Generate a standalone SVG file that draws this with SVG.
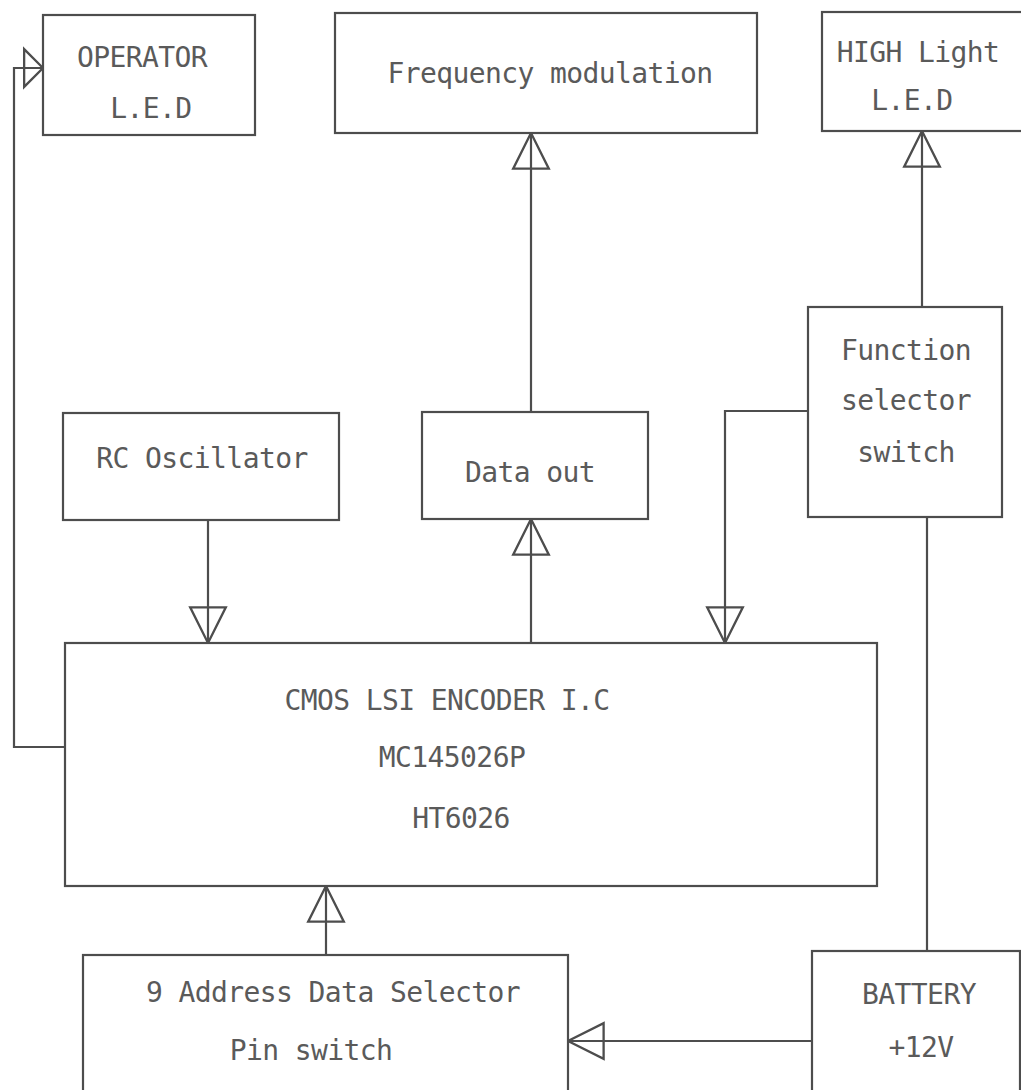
<svg xmlns="http://www.w3.org/2000/svg" width="1021" height="1090" viewBox="0 0 1021 1090">
<style>
.box{fill:#fff;stroke:#4d4d4d;stroke-width:2.2}
.ln{fill:none;stroke:#4d4d4d;stroke-width:2.2}
.t{font-family:"DejaVu Sans Mono","Liberation Mono",monospace;font-size:28px;letter-spacing:-0.6px;fill:#5a5a5a;text-anchor:middle}
</style>
<defs>
<marker id="tri" markerUnits="userSpaceOnUse" markerWidth="44" markerHeight="44" viewBox="-38 -21 42 42" refX="0" refY="0" orient="auto">
<path d="M0,0 L-34,-17 L-34,17 Z" fill="none" stroke="#4d4d4d" stroke-width="2.2"/>
</marker>
<marker id="triShort" markerUnits="userSpaceOnUse" markerWidth="44" markerHeight="44" viewBox="-38 -21 42 42" refX="0" refY="0" orient="auto">
<path d="M0,0 L-18,-18 L-18,18 Z" fill="none" stroke="#4d4d4d" stroke-width="2.2"/>
</marker>
</defs>
<rect width="1021" height="1090" fill="#fff"/>
<g id="connectors">
<polyline class="ln" points="65,747 14,747 14,68 43,68" marker-end="url(#triShort)"/>
<line class="ln" x1="531" y1="412" x2="531" y2="133" marker-end="url(#tri)"/>
<line class="ln" x1="922" y1="307" x2="922" y2="131" marker-end="url(#tri)"/>
<line class="ln" x1="208" y1="520" x2="208" y2="643" marker-end="url(#tri)"/>
<line class="ln" x1="531" y1="643" x2="531" y2="519" marker-end="url(#tri)"/>
<polyline class="ln" points="808,411 725,411 725,643" marker-end="url(#tri)"/>
<line class="ln" x1="326" y1="955" x2="326" y2="886" marker-end="url(#tri)"/>
<line class="ln" x1="927" y1="517" x2="927" y2="951"/>
<line class="ln" x1="812" y1="1041" x2="568" y2="1041" marker-end="url(#tri)"/>
</g>
<g id="operator-led">
<rect class="box" x="43" y="15" width="212" height="120"/>
<text class="t" x="142" y="67">OPERATOR</text>
<text class="t" x="151" y="118">L.E.D</text>
</g>
<g id="frequency-modulation">
<rect class="box" x="335" y="13" width="422" height="120"/>
<text class="t" x="550" y="83">Frequency modulation</text>
</g>
<g id="high-light-led">
<rect class="box" x="822" y="12" width="220" height="119"/>
<text class="t" x="918" y="62">HIGH Light</text>
<text class="t" x="912" y="110">L.E.D</text>
</g>
<g id="rc-oscillator">
<rect class="box" x="63" y="413" width="276" height="107"/>
<text class="t" x="202" y="468">RC Oscillator</text>
</g>
<g id="data-out">
<rect class="box" x="422" y="412" width="226" height="107"/>
<text class="t" x="530" y="482">Data out</text>
</g>
<g id="function-selector">
<rect class="box" x="808" y="307" width="194" height="210"/>
<text class="t" x="906" y="360">Function</text>
<text class="t" x="906" y="410">selector</text>
<text class="t" x="906" y="462">switch</text>
</g>
<g id="cmos-encoder">
<rect class="box" x="65" y="643" width="812" height="243"/>
<text class="t" x="447" y="710">CMOS LSI ENCODER I.C</text>
<text class="t" x="452" y="767">MC145026P</text>
<text class="t" x="461" y="828">HT6026</text>
</g>
<g id="address-selector">
<rect class="box" x="83" y="955" width="485" height="160"/>
<text class="t" x="333" y="1002">9 Address Data Selector</text>
<text class="t" x="311" y="1060">Pin switch</text>
</g>
<g id="battery">
<rect class="box" x="812" y="951" width="208" height="160"/>
<text class="t" x="919" y="1004">BATTERY</text>
<text class="t" x="921" y="1057">+12V</text>
</g>
</svg>
